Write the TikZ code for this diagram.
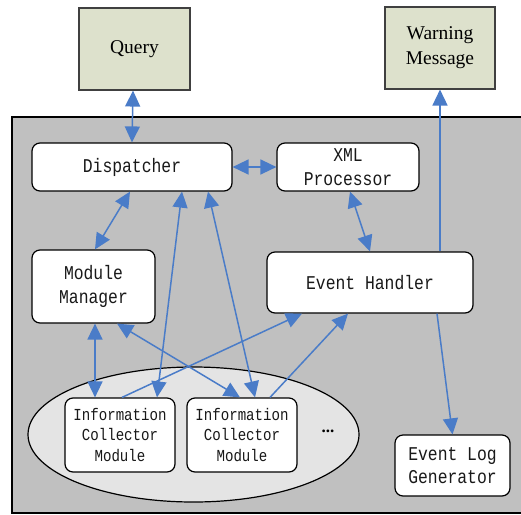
\documentclass[tikz,border=0pt]{standalone}
\usepackage{fontspec}
\setmainfont{Liberation Serif}
\newfontfamily\codefont[FakeStretch=0.84]{Liberation Mono}
\usetikzlibrary{arrows.meta}

\definecolor{extgreen}{HTML}{DDE1CC}
\definecolor{panelgray}{HTML}{C0C0C0}
\definecolor{ovalgray}{HTML}{E4E4E4}
\definecolor{linkblue}{HTML}{4A7CC8}

\tikzset{
  extbox/.style={draw=black!75, line width=1.1pt, fill=extgreen, align=center,
    inner sep=0pt, font=\fontsize{19.5}{25}\selectfont},
  modbox/.style={draw=black, line width=1.2pt, fill=white, rounded corners=8pt,
    align=center, inner sep=0pt, text=black!90,
    font=\codefont\fontsize{19.5}{23.5}\selectfont},
  icbox/.style={modbox, font=\codefont\fontsize{16.8}{20.5}\selectfont},
  link/.style={draw=linkblue, line width=1.5pt,
    -{Triangle[length=16pt,width=15pt]}},
  duplink/.style={link, {Triangle[length=16pt,width=15pt]}-{Triangle[length=16pt,width=15pt]}}
}

\begin{document}
\begin{tikzpicture}[x=1pt, y=-1pt]
      \useasboundingbox (0,0) rectangle (521,514);
      \clip (0,0) rectangle (521,514);

      % Background
      \fill[white] (0,0) rectangle (521,514);
      \draw[line width=1.3pt, fill=panelgray] (12,117) rectangle (530,513);
      \draw[line width=1.2pt, fill=ovalgray] (193.5,434.5) ellipse [x radius=165.5pt, y radius=67.5pt];

      % External boxes
      \node[extbox, minimum width=111pt, minimum height=82pt] (query) at (134.5,49) {Query};
      \node[extbox, minimum width=110pt, minimum height=82pt] (warn) at (440,48) {Warning\\Message};

      % Modules
      \node[modbox, minimum width=200pt, minimum height=48pt] (disp) at (132,167) {Dispatcher};
      \node[modbox, minimum width=142pt, minimum height=48pt] (xml) at (348,167) {XML\\Processor};
      \node[modbox, minimum width=123pt, minimum height=73pt] (mm) at (93.5,286.5) {Module\\Manager};
      \node[modbox, minimum width=206pt, minimum height=61pt] (eh) at (370,282.5) {Event Handler};
      \node[modbox, minimum width=115pt, minimum height=61pt] (log) at (452.5,465.5) {Event Log\\Generator};

      % Information collectors
      \node[icbox, minimum width=110pt, minimum height=74pt] (ic1) at (120,435) {Information\\Collector\\Module};
      \node[icbox, minimum width=110pt, minimum height=74pt] (ic2) at (242,435) {Information\\Collector\\Module};
      \node[font=\bfseries\fontsize{17}{17}\selectfont] (more) at (328,431) {...};

      % Links
      \draw[duplink] ([xshift=-1.5pt]query.south) -- (disp.north);
      \draw[duplink] (disp.east) -- (xml.west);
      \draw[duplink] ([xshift=-2pt]disp.south) -- ([xshift=1.5pt]mm.north);
      \draw[duplink] ([xshift=2pt]xml.south) -- (eh.north);
      \draw[link] (eh.north -| warn.south) -- (warn.south);
      \draw[link] ([xshift=67pt]eh.south) -- (log.north);
      \draw[duplink] ([xshift=37pt]ic1.north) -- ([xshift=50pt]disp.south);
      \draw[duplink] ([xshift=13pt]ic2.north) -- ([xshift=76pt]disp.south);
      \draw[duplink] ([xshift=1.5pt]mm.south) -- ([xshift=-25pt]ic1.north);
      \draw[duplink] ([xshift=23.5pt]mm.south) -- ([xshift=-2pt]ic2.north);
      \draw[link] ([xshift=2pt]ic1.north) -- ([xshift=-68pt]eh.south);
      \draw[link] ([xshift=28pt]ic2.north) -- ([xshift=-22pt]eh.south);

    \end{tikzpicture}
\end{document}
